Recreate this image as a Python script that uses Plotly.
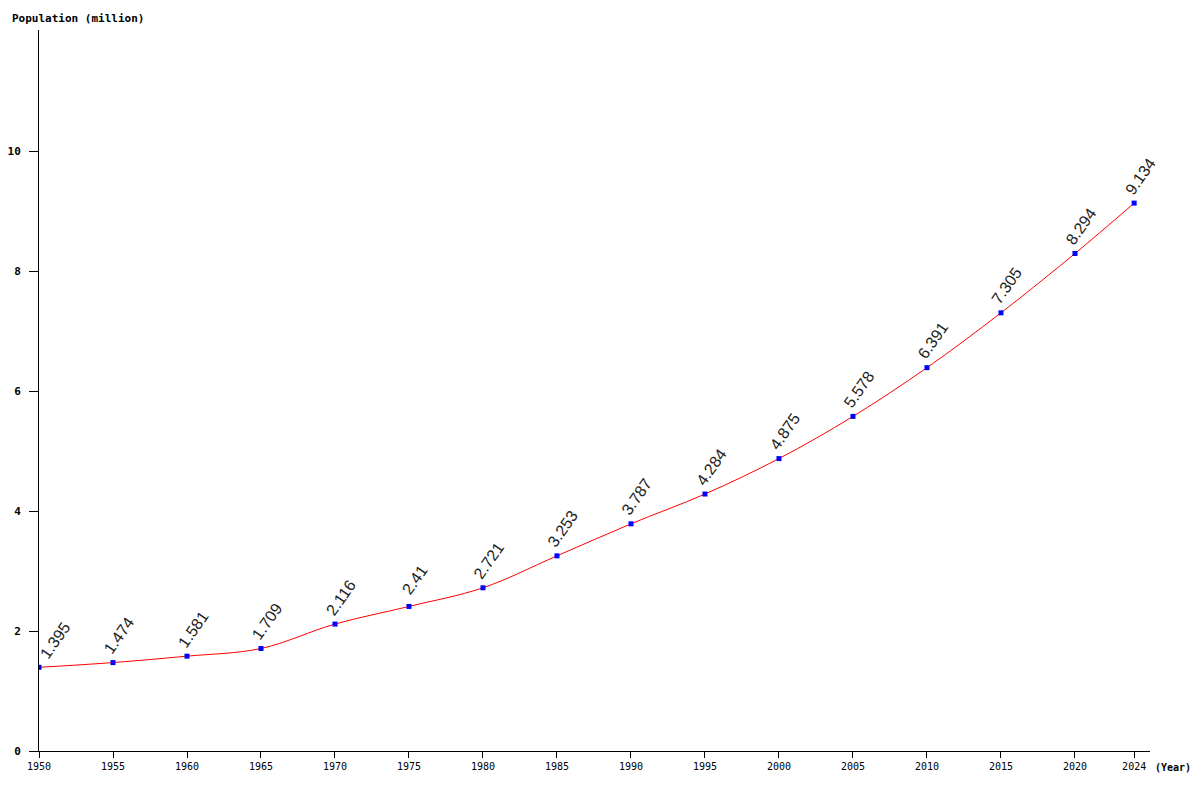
import plotly.graph_objects as go

years = [1950, 1955, 1960, 1965, 1970, 1975, 1980, 1985, 1990, 1995, 2000, 2005, 2010, 2015, 2020, 2024]
population = [1.395, 1.474, 1.581, 1.709, 2.116, 2.41, 2.721, 3.253, 3.787, 4.284, 4.875, 5.578, 6.391, 7.305, 8.294, 9.134]
y_ticks = [0, 2, 4, 6, 8, 10]

fig = go.Figure()
fig.add_trace(go.Scatter(
    x=years, y=population, mode="lines",
    line=dict(color="red", width=1, shape="spline", smoothing=1.0),
    hoverinfo="skip", showlegend=False))
fig.add_trace(go.Scatter(
    x=years, y=population, mode="markers",
    marker=dict(color="blue", size=5, symbol="square"),
    showlegend=False))

for i, (yr, v) in enumerate(zip(years, population)):
    fig.add_annotation(
        x=yr, y=v, text=f"{v:g}", showarrow=False, textangle=-55,
        font=dict(family="Liberation Sans, Arial", size=16, color="#222"),
        xshift=16 if i == 0 else 6, yshift=27)

fig.add_annotation(xref="paper", yref="paper", x=-0.0261, y=1.0, yshift=3,
                   xanchor="left", yanchor="bottom", text="Population (million)",
                   showarrow=False,
                   font=dict(family="DejaVu Sans Mono", size=11, color="black", weight="bold"))
fig.add_annotation(xref="paper", yref="paper", x=1.0, y=0, xshift=3, yshift=-16,
                   xanchor="left", yanchor="middle", text="(Year)", showarrow=False,
                   font=dict(family="DejaVu Sans Mono", size=10, color="black", weight="bold"))

fig.update_layout(
    width=1192, height=784,
    margin=dict(l=31, r=50, t=22, b=41, autoexpand=False),
    plot_bgcolor="white", paper_bgcolor="white",
    xaxis=dict(range=[1950, 2025.07], tickvals=years, ticktext=[str(y) for y in years],
               showgrid=False, zeroline=False, showline=True, linecolor="black", linewidth=1,
               ticks="outside", ticklen=6, tickcolor="black",
               tickfont=dict(family="DejaVu Sans Mono", size=10, color="black")),
    yaxis=dict(range=[0, 12.02], tickvals=y_ticks, showgrid=False, zeroline=False,
               showline=True, linecolor="black", linewidth=1,
               ticks="outside", ticklen=9, tickcolor="black", ticklabelstandoff=6,
               tickfont=dict(family="DejaVu Sans Mono", size=11, color="black", weight="bold")),
)

fig.write_html("out.html")
